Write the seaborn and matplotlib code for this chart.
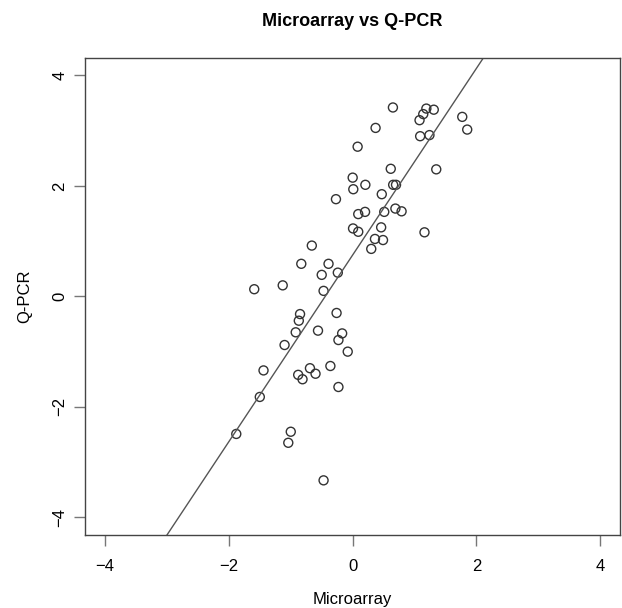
import numpy as np
import pandas as pd
import matplotlib
matplotlib.use("Agg")
import matplotlib.pyplot as plt
import seaborn as sns

# values
microarray = [0.65, 1.19, 1.31, 1.14, 1.08, 1.77, 1.85, 0.37, 1.09, 1.24,
              0.08, 0.615, 1.35, 0.00, 0.01, 0.205, 0.654, 0.70, 0.47, -0.27,
              0.09, 0.20, 0.51, 0.69, 0.79, 0.006, 0.09, 0.46, 0.36, 0.49,
              1.16, 0.30, -0.66, -0.83, -0.39, -0.50, -0.24, -1.59, -1.13, -0.47,
              -0.85, -0.87, -0.26, -0.92, -0.56, -0.17, -0.23, -1.10, -0.08, -1.44,
              -0.69, -0.36, -0.88, -0.60, -0.81, -0.23, -1.50, -1.88, -1.00, -1.04,
              -0.47]
qpcr = [3.42, 3.40, 3.38, 3.30, 3.19, 3.25, 3.02, 3.05, 2.90, 2.92,
        2.71, 2.31, 2.30, 2.15, 1.94, 2.02, 2.02, 2.02, 1.85, 1.76,
        1.49, 1.53, 1.53, 1.59, 1.54, 1.23, 1.17, 1.25, 1.04, 1.02,
        1.16, 0.86, 0.92, 0.59, 0.59, 0.39, 0.43, 0.13, 0.20, 0.10,
        -0.32, -0.44, -0.30, -0.65, -0.62, -0.67, -0.79, -0.88, -1.00, -1.34,
        -1.30, -1.26, -1.42, -1.40, -1.50, -1.64, -1.82, -2.49, -2.45, -2.65,
        -3.33]

# fitted line shown in the reference
fit_intercept = 0.75
fit_slope = 1.69

ticks = [-4, -2, 0, 2, 4]

df = pd.DataFrame({"Microarray": microarray, "Q-PCR": qpcr})

plt.rcParams["font.family"] = ["Liberation Sans", "DejaVu Sans"]

fig = plt.figure(figsize=(6.22, 6.08), dpi=100)
ax = fig.add_axes([0.137, 0.12, 0.860, 0.785])

sns.scatterplot(data=df, x="Microarray", y="Q-PCR", ax=ax, marker="o",
                s=42, facecolor="none", edgecolor="#333333", linewidth=1.0)
ax.axline((0, fit_intercept), slope=fit_slope, color="#555555", linewidth=1.0)

ax.set_xlim(-4.32, 4.32)
ax.set_ylim(-4.32, 4.32)
ax.set_xticks(ticks)
ax.set_yticks(ticks)
ax.set_xticklabels([str(t).replace("-", "\u2212") for t in ticks], fontsize=12)
ax.set_yticklabels([str(t).replace("-", "\u2212") for t in ticks], fontsize=12,
                   rotation=90, va="center")
ax.tick_params(direction="out", length=8, width=1, color="#777777")
ax.tick_params(axis="x", pad=9)
ax.tick_params(axis="y", pad=5)
for sp in ax.spines.values():
    sp.set_color("#444444")
    sp.set_linewidth(1.0)

ax.set_xlabel("Microarray", fontsize=12, labelpad=13)
ax.set_ylabel("Q-PCR", fontsize=12, labelpad=14)
fig.text(0.137 + 0.860 / 2, 1 - 21 / 608, "Microarray vs Q-PCR", fontsize=13,
         fontweight="bold", ha="center", va="center")

fig.savefig("out.png", dpi=100)
